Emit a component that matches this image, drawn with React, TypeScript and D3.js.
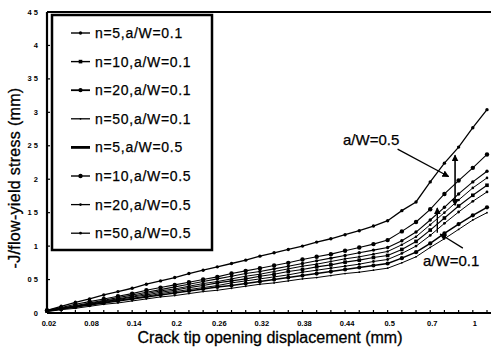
import React, { useEffect, useRef } from 'react';
import * as d3 from 'd3';

// CTOD categories (mm) - evenly spaced on the axis
const categories = ["0.02","0.04","0.06","0.08","0.1","0.12","0.14","0.16","0.18","0.2",
  "0.22","0.24","0.26","0.28","0.3","0.32","0.34","0.36","0.38","0.4",
  "0.42","0.44","0.46","0.48","0.5","0.55","0.6","0.7","0.8","0.9","1","1.1"];
const xTickLabels = ["0.02","0.08","0.14","0.2","0.26","0.32","0.38","0.44","0.5","0.7","1"];
const yTicks = [0, 0.5, 1, 1.5, 2, 2.5, 3, 3.5, 4, 4.5];

const seriesNames = ["n=5,a/W=0.1","n=10,a/W=0.1","n=20,a/W=0.1","n=50,a/W=0.1",
  "n=5,a/W=0.5","n=10,a/W=0.5","n=20,a/W=0.5","n=50,a/W=0.5"];

const n5a1 = [0.03,0.07,0.11,0.15,0.19,0.23,0.27,0.31,0.35,0.39,0.43,0.47,0.51,0.55,0.59,0.62,0.66,0.70,0.74,0.78,0.82,0.86,0.90,0.94,0.98,1.08,1.21,1.39,1.58,1.78,1.96,2.12];
const n10a1 = [0.03,0.06,0.10,0.13,0.17,0.20,0.24,0.27,0.31,0.34,0.38,0.41,0.45,0.48,0.51,0.55,0.58,0.62,0.65,0.69,0.72,0.76,0.79,0.83,0.86,0.95,1.07,1.24,1.42,1.60,1.76,1.91];
const n20a1 = [0.03,0.06,0.09,0.12,0.15,0.18,0.21,0.24,0.27,0.30,0.33,0.36,0.39,0.41,0.44,0.47,0.50,0.53,0.56,0.59,0.62,0.65,0.68,0.71,0.74,0.82,0.91,1.04,1.19,1.33,1.46,1.58];
const n50a1 = [0.02,0.05,0.07,0.10,0.13,0.15,0.18,0.21,0.24,0.26,0.29,0.32,0.34,0.37,0.40,0.43,0.45,0.48,0.51,0.53,0.56,0.59,0.61,0.64,0.67,0.75,0.84,0.98,1.11,1.25,1.39,1.50];
const n5a5 = [0.04,0.10,0.16,0.21,0.27,0.32,0.37,0.43,0.48,0.53,0.59,0.64,0.69,0.74,0.79,0.85,0.90,0.95,1.00,1.06,1.11,1.17,1.23,1.30,1.38,1.53,1.66,1.96,2.24,2.48,2.77,3.04];
const n10a5 = [0.04,0.08,0.13,0.17,0.21,0.25,0.29,0.34,0.38,0.42,0.46,0.50,0.54,0.59,0.63,0.67,0.71,0.75,0.80,0.84,0.88,0.93,0.98,1.03,1.09,1.22,1.36,1.55,1.78,1.98,2.17,2.37];
const n20a5 = [0.03,0.07,0.10,0.14,0.18,0.21,0.25,0.29,0.33,0.36,0.40,0.44,0.47,0.51,0.55,0.58,0.62,0.66,0.70,0.73,0.77,0.81,0.84,0.88,0.92,1.02,1.14,1.32,1.50,1.69,1.87,2.02];
const n50a5 = [0.03,0.06,0.09,0.13,0.16,0.19,0.22,0.25,0.29,0.32,0.35,0.38,0.41,0.45,0.48,0.51,0.54,0.57,0.61,0.64,0.67,0.70,0.73,0.77,0.80,0.89,1.00,1.16,1.34,1.51,1.67,1.81];

const seriesValues = [n5a1, n10a1, n20a1, n50a1, n5a5, n10a5, n20a5, n50a5];

// line width, marker shape and size per series
const styles = [
  { w: 1.1, m: 'circle', r: 1.7 },
  { w: 1.1, m: 'square', r: 1.8 },
  { w: 1.5, m: 'circle', r: 2.1 },
  { w: 1.0, m: 'circle', r: 0.9 },
  { w: 1.3, m: 'circle', r: 1.7 },
  { w: 1.1, m: 'circle', r: 2.2 },
  { w: 1.0, m: 'circle', r: 1.3 },
  { w: 1.0, m: 'circle', r: 1.4 },
];

const W = 491;
const H = 350;
const FONT = '"Liberation Sans", Arial, sans-serif';

export default function App() {
  const ref = useRef<SVGSVGElement>(null);

  useEffect(() => {
    const svg = d3.select(ref.current);
    svg.selectAll('*').remove();

    const left = 47, right = 487, top = 12, bottom = 313;
    const x = d3.scalePoint<string>().domain(categories).range([left, right]);
    const y = d3.scaleLinear().domain([0, 4.5]).range([bottom, top]);
    const xi = (i: number) => left + i * x.step();

    const defs = svg.append('defs');
    defs.append('marker')
      .attr('id', 'ah')
      .attr('viewBox', '0 0 10 10')
      .attr('refX', 9).attr('refY', 5)
      .attr('markerWidth', 7).attr('markerHeight', 7)
      .attr('markerUnits', 'userSpaceOnUse')
      .attr('orient', 'auto-start-reverse')
      .append('path').attr('d', 'M0,0L10,5L0,10Z').attr('fill', '#000');

    // frame
    svg.append('line').attr('x1', left).attr('x2', W).attr('y1', top).attr('y2', top)
      .attr('stroke', '#000').attr('stroke-width', 2);
    svg.append('line').attr('x1', left).attr('x2', left).attr('y1', top).attr('y2', bottom)
      .attr('stroke', '#000').attr('stroke-width', 2.2);
    svg.append('line').attr('x1', left).attr('x2', W).attr('y1', bottom).attr('y2', bottom)
      .attr('stroke', '#000').attr('stroke-width', 2.2);

    // x ticks
    svg.append('g').selectAll('line').data(categories).enter().append('line')
      .attr('x1', d => x(d)!).attr('x2', d => x(d)!)
      .attr('y1', bottom).attr('y2', bottom - 3)
      .attr('stroke', '#000').attr('stroke-width', 1.2);
    svg.append('g').selectAll('text').data(xTickLabels).enter().append('text')
      .attr('x', d => x(d)! + 2).attr('y', 326)
      .attr('text-anchor', 'middle')
      .style('font', `bold 7.5px ${FONT}`)
      .text(d => d);

    // y ticks
    svg.append('g').selectAll('line').data(yTicks).enter().append('line')
      .attr('x1', left).attr('x2', left + 3)
      .attr('y1', d => y(d)).attr('y2', d => y(d))
      .attr('stroke', '#000').attr('stroke-width', 1.2);
    svg.append('g').selectAll('text').data(yTicks).enter().append('text')
      .attr('x', 38).attr('y', d => y(d) + 2.5)
      .attr('text-anchor', 'end')
      .style('font', `bold 7.5px ${FONT}`)
      .text(d => String(d).replace('.', ' '));

    // titles
    svg.append('text').attr('x', 270).attr('y', 343).attr('text-anchor', 'middle')
      .style('font', `16px ${FONT}`)
      .attr('stroke', '#000').attr('stroke-width', 0.3)
      .text('Crack tip opening displacement (mm)');
    svg.append('text').attr('transform', 'translate(20,178) rotate(-90)')
      .attr('text-anchor', 'middle')
      .style('font', `16px ${FONT}`)
      .style('letter-spacing', '0.3px')
      .attr('stroke', '#000').attr('stroke-width', 0.3)
      .text('-J/flow-yield stress (mm)');

    // series
    const line = d3.line<number>().x((_, i) => x(categories[i])!).y(d => y(d));
    seriesValues.forEach((vals, s) => {
      const st = styles[s];
      const g = svg.append('g');
      g.append('path').datum(vals).attr('d', line)
        .attr('fill', 'none').attr('stroke', '#000').attr('stroke-width', st.w);
      if (st.m === 'square') {
        g.selectAll('rect').data(vals).enter().append('rect')
          .attr('x', (_, i) => x(categories[i])! - st.r)
          .attr('y', d => y(d) - st.r)
          .attr('width', st.r * 2).attr('height', st.r * 2).attr('fill', '#000');
      } else {
        g.selectAll('circle').data(vals).enter().append('circle')
          .attr('cx', (_, i) => x(categories[i])!)
          .attr('cy', d => y(d)).attr('r', st.r).attr('fill', '#000');
      }
    });

    // legend
    const lg = svg.append('g');
    lg.append('rect').attr('x', 52).attr('y', 15).attr('width', 160).attr('height', 235)
      .attr('fill', '#fff').attr('stroke', '#000').attr('stroke-width', 2.5);
    seriesNames.forEach((name, s) => {
      const st = styles[s];
      const ly = 33 + s * 28.6;
      lg.append('line').attr('x1', 71).attr('x2', 90).attr('y1', ly).attr('y2', ly)
        .attr('stroke', '#000').attr('stroke-width', s === 4 ? 2.8 : st.w + 0.3);
      if (st.m === 'square') {
        lg.append('rect').attr('x', 80.5 - st.r).attr('y', ly - st.r)
          .attr('width', st.r * 2).attr('height', st.r * 2);
      } else if (s !== 4) {
        lg.append('circle').attr('cx', 80.5).attr('cy', ly).attr('r', st.r);
      }
      lg.append('text').attr('x', 95).attr('y', ly + 5)
        .style('font', `14px ${FONT}`)
        .style('letter-spacing', '0.7px')
        .attr('stroke', '#000').attr('stroke-width', 0.25)
        .text(name);
    });

    // annotations
    const ann = svg.append('g');
    ann.append('text').attr('x', 343).attr('y', 145)
      .style('font', `15px ${FONT}`)
      .attr('stroke', '#000').attr('stroke-width', 0.25).text('a/W=0.5');
    ann.append('line')
      .attr('x1', xi(24.7)).attr('y1', y(2.45)).attr('x2', xi(28.3)).attr('y2', y(2.04))
      .attr('stroke', '#000').attr('stroke-width', 1.2).attr('marker-end', 'url(#ah)');
    ann.append('line')
      .attr('x1', xi(28.75)).attr('y1', y(2.36)).attr('x2', xi(28.75)).attr('y2', y(1.61))
      .attr('stroke', '#000').attr('stroke-width', 1.6)
      .attr('marker-start', 'url(#ah)').attr('marker-end', 'url(#ah)');

    ann.append('text').attr('x', 423).attr('y', 266)
      .style('font', `15px ${FONT}`)
      .attr('stroke', '#000').attr('stroke-width', 0.25).text('a/W=0.1');
    ann.append('line')
      .attr('x1', xi(29.3)).attr('y1', y(0.97)).attr('x2', xi(27.7)).attr('y2', y(1.18))
      .attr('stroke', '#000').attr('stroke-width', 1.2).attr('marker-end', 'url(#ah)');
    ann.append('line')
      .attr('x1', xi(27.5)).attr('y1', y(1.2)).attr('x2', xi(27.5)).attr('y2', y(1.57))
      .attr('stroke', '#000').attr('stroke-width', 1.4).attr('marker-end', 'url(#ah)');
  }, []);

  return (
    <svg ref={ref} width={W} height={H}
      style={{ position: 'absolute', left: 0, top: 0, background: '#fff' }} />
  );
}
